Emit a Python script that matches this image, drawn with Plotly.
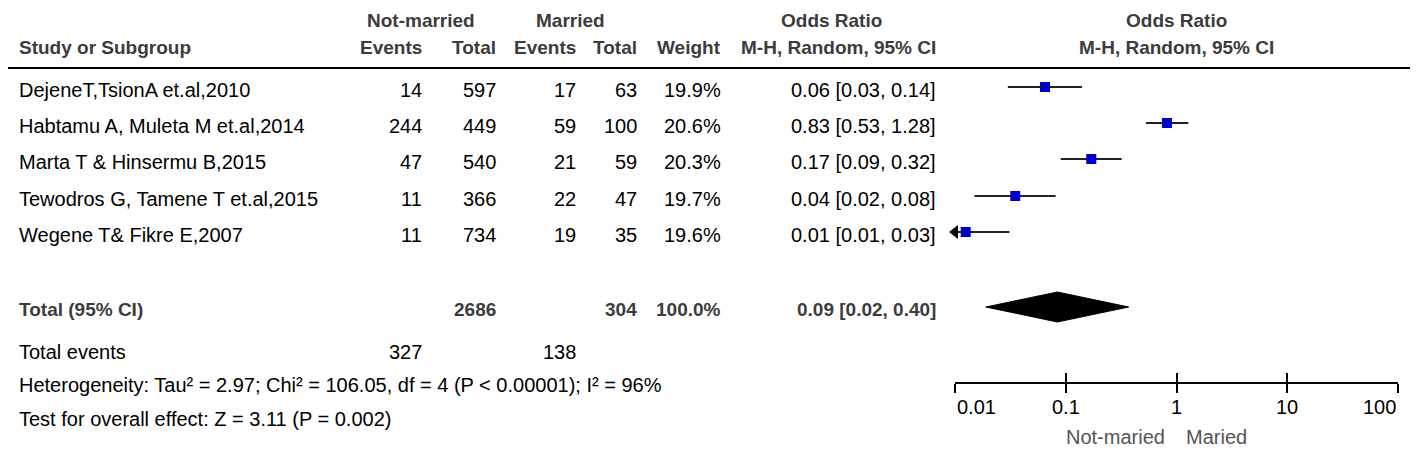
import math
import plotly.graph_objects as go

# ---------------- data ----------------
studies = ["DejeneT,TsionA et.al,2010", "Habtamu A, Muleta M et.al,2014",
           "Marta T & Hinsermu B,2015", "Tewodros G, Tamene T et.al,2015",
           "Wegene T& Fikre E,2007"]
nm_events = [14, 244, 47, 11, 11]
nm_total = [597, 449, 540, 366, 734]
m_events = [17, 59, 21, 22, 19]
m_total = [63, 100, 59, 47, 35]
weights = ["19.9%", "20.6%", "20.3%", "19.7%", "19.6%"]
ci_text = ["0.06 [0.03, 0.14]", "0.83 [0.53, 1.28]", "0.17 [0.09, 0.32]",
           "0.04 [0.02, 0.08]", "0.01 [0.01, 0.03]"]
or_est = [0.065, 0.82, 0.17, 0.035, 0.0125]
or_lo = [0.03, 0.53, 0.09, 0.015, 0.004]
or_hi = [0.14, 1.28, 0.32, 0.081, 0.031]

total_nm = 2686
total_m = 304
total_weight = "100.0%"
total_ci_text = "0.09 [0.02, 0.40]"
total_or = [0.084, 0.019, 0.37]   # est, lo, hi
events_nm = 327
events_m = 138
het_text = "Heterogeneity: Tau² = 2.97; Chi² = 106.05, df = 4 (P < 0.00001); I² = 96%"
test_text = "Test for overall effect: Z = 3.11 (P = 0.002)"

tick_vals = [0.01, 0.1, 1, 10, 100]
tick_text = ["0.01", "0.1", "1", "10", "100"]

# ---------------- layout constants ----------------
OFF = 8                       # page body margin
SW, SH = 1418, 451            # screen size
W, H = SW - OFF, SH - OFF     # figure size
FONT = "Liberation Sans Narrow, Arial Narrow, Liberation Sans, Arial, sans-serif"
FS = 20
HFS = 19
row_y = [90, 126, 162, 199, 235]
total_y = 309
axis_y = 382
header1_y = 20
header2_y = 48
line_y = 68
HEAD_COL = "#3c3c3c"

def px(x):
    return (x - OFF) / W

def py(y):
    return 1 - (y - OFF) / H

fig = go.Figure()
ann = []

def text(x, y, s, anchor="left", bold=False, color="black", size=FS):
    ann.append(dict(x=px(x), y=py(y), xref="paper", yref="paper", text=("<b>%s</b>" % s) if bold else s,
                    showarrow=False, xanchor=anchor, yanchor="middle", borderpad=0,
                    font=dict(family=FONT, size=size, color=color)))

# headers
text(421, header1_y, "Not-married", "center", True, HEAD_COL, HFS)
text(570, header1_y, "Married", "center", True, HEAD_COL, HFS)
text(831, header1_y, "Odds Ratio", "center", True, HEAD_COL, HFS)
text(1176, header1_y, "Odds Ratio", "center", True, HEAD_COL, HFS)
text(18, header2_y, "Study or Subgroup", "left", True, HEAD_COL, HFS)
text(423, header2_y, "Events", "right", True, HEAD_COL, HFS)
text(497, header2_y, "Total", "right", True, HEAD_COL, HFS)
text(577, header2_y, "Events", "right", True, HEAD_COL, HFS)
text(638, header2_y, "Total", "right", True, HEAD_COL, HFS)
text(722, header2_y, "Weight", "right", True, HEAD_COL, HFS)
text(937, header2_y, "M-H, Random, 95% CI", "right", True, HEAD_COL, HFS)
text(1176, header2_y, "M-H, Random, 95% CI", "center", True, HEAD_COL, HFS)

# study rows
for i, s in enumerate(studies):
    y = row_y[i]
    text(18, y, s)
    text(423, y, str(nm_events[i]), "right")
    text(497, y, str(nm_total[i]), "right")
    text(577, y, str(m_events[i]), "right")
    text(638, y, str(m_total[i]), "right")
    text(722, y, weights[i], "right")
    text(937, y, ci_text[i], "right")

# total rows
text(18, total_y, "Total (95% CI)", "left", True, HEAD_COL, HFS)
text(497, total_y, str(total_nm), "right", True, HEAD_COL, HFS)
text(638, total_y, str(total_m), "right", True, HEAD_COL, HFS)
text(722, total_y, total_weight, "right", True, HEAD_COL, HFS)
text(937, total_y, total_ci_text, "right", True, HEAD_COL, HFS)
text(18, 352, "Total events")
text(423, 352, str(events_nm), "right")
text(577, 352, str(events_m), "right")
text(18, 385, het_text)
text(18, 419, test_text)

# forest: CI lines
xmin = tick_vals[0]
for i in range(len(studies)):
    lo = max(or_lo[i], xmin)
    fig.add_trace(go.Scatter(x=[lo, or_hi[i]], y=[row_y[i] - 3, row_y[i] - 3], mode="lines",
                             line=dict(color="#222222", width=2), showlegend=False, hoverinfo="skip"))
    if or_lo[i] < xmin:
        fig.add_trace(go.Scatter(x=[xmin], y=[row_y[i] - 3], mode="markers",
                                 marker=dict(symbol="triangle-left", size=12, color="black"),
                                 showlegend=False, hoverinfo="skip", cliponaxis=False))
fig.add_trace(go.Scatter(x=or_est, y=[y - 3 for y in row_y], mode="markers",
                         marker=dict(symbol="square", size=10, color="#0000C8"),
                         showlegend=False, hoverinfo="skip", cliponaxis=False))
# diamond
est, lo, hi = total_or
dy = total_y - 2
fig.add_trace(go.Scatter(x=[lo, est, hi, est, lo], y=[dy, dy - 15, dy, dy + 15, dy],
                         mode="lines", fill="toself", fillcolor="black",
                         line=dict(color="black", width=1), showlegend=False, hoverinfo="skip"))

# tick labels
for v, t in zip(tick_vals, tick_text):
    anchor = "left" if v == tick_vals[0] else ("right" if v == tick_vals[-1] else "center")
    ann.append(dict(x=math.log10(v), y=py(407), xref="x", yref="paper", text=t, showarrow=False,
                    xanchor=anchor, yanchor="middle", font=dict(family=FONT, size=FS, color="black")))
text(1166, 437, "Not-maried", "right", False, "#555555")
text(1185, 437, "Maried", "left", False, "#555555")

shapes = [
    dict(type="line", xref="paper", yref="paper", x0=px(5), x1=px(1416), y0=py(line_y), y1=py(line_y),
         line=dict(color="black", width=2)),
    dict(type="line", xref="x", yref="y", x0=0, x1=0, y0=line_y, y1=axis_y,
         line=dict(color="black", width=1.5)),
]

axis_common = dict(type="log", range=[math.log10(tick_vals[0]), math.log10(tick_vals[-1])],
                   domain=[px(955), px(1398)], tickvals=tick_vals, showgrid=False, zeroline=False,
                   showticklabels=False, tickcolor="black", tickwidth=2, ticklen=9)
fig.update_layout(
    width=W, height=H, margin=dict(l=0, r=0, t=0, b=0),
    paper_bgcolor="white", plot_bgcolor="white",
    xaxis=dict(**axis_common, showline=True, linecolor="black", linewidth=2, ticks="outside", anchor="y"),
    xaxis2=dict(**axis_common, overlaying="x", anchor="y", ticks="inside", showline=False),
    yaxis=dict(range=[axis_y, OFF], domain=[py(axis_y), 1], visible=False),
    annotations=ann, shapes=shapes,
)
fig.add_trace(go.Scatter(x=[1], y=[-100], xaxis="x2", mode="markers", showlegend=False, hoverinfo="skip",
                         marker=dict(opacity=0)))
fig.write_html("out.html")
